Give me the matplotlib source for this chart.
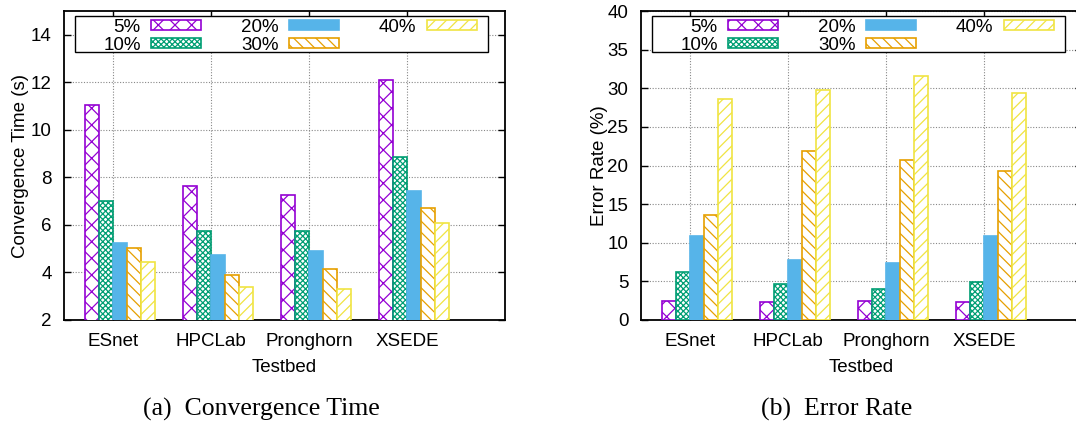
import numpy as np
import matplotlib
matplotlib.use('Agg')
import matplotlib.pyplot as plt
from matplotlib.patches import Rectangle

# data
testbeds = ['ESnet', 'HPCLab', 'Pronghorn', 'XSEDE']
labels = ['5%', '10%', '20%', '30%', '40%']
conv_time = [
    [11.05, 7.63, 7.25, 12.08],   # 5%
    [7.02, 5.75, 5.75, 8.86],     # 10%
    [5.23, 4.72, 4.90, 7.42],     # 20%
    [5.02, 3.88, 4.13, 6.70],     # 30%
    [4.43, 3.38, 3.32, 6.07],     # 40%
]
err_rate = [
    [2.5, 2.37, 2.42, 2.33],
    [6.17, 4.66, 3.97, 4.96],
    [10.83, 7.81, 7.38, 10.92],
    [13.55, 21.83, 20.71, 19.25],
    [28.57, 29.77, 31.63, 29.39],
]

colors = ['#9400D3', '#009E73', '#56B4E9', '#E69F00', '#F0E442']
hatches = ['xx', 'xxxxxx', '', '\\\\\\', '///']
fills = [False, False, True, False, False]

plt.rcParams['font.family'] = ['Liberation Sans', 'DejaVu Sans']
plt.rcParams['hatch.linewidth'] = 0.9
FS = 13.5

fig = plt.figure(figsize=(10.76, 4.25), dpi=100)
W, H = 1076.0, 425.0
ax1 = fig.add_axes([64 / W, (H - 320) / H, 441 / W, 309 / H])
ax2 = fig.add_axes([641 / W, (H - 320) / H, 441 / W, 309 / H])


def draw(ax, data, ylim, yticks, ylabel, ypad):
    x = np.arange(len(testbeds))
    w = 0.143
    for j, vals in enumerate(data):
        ax.bar(x + (j - 2) * w, vals, width=w, align='edge',
               color=colors[j] if fills[j] else 'white',
               edgecolor=colors[j], hatch=hatches[j], linewidth=1.2,
               label=labels[j], zorder=3)
    ax.set_xlim(-0.5, 4.0)
    ax.set_ylim(*ylim)
    ax.set_xticks(x)
    ax.set_xticklabels(testbeds, fontsize=FS)
    ax.set_yticks(yticks)
    ax.tick_params(axis='y', labelsize=FS, pad=9)
    ax.tick_params(axis='x', pad=9)
    ax.tick_params(direction='in', length=5, width=1, top=True, right=True)
    ax.grid(True, color='#888888', linestyle=(0, (1, 1.5)), linewidth=0.8,
            zorder=0)
    for s in ax.spines.values():
        s.set_linewidth(1.3)
    ax.set_xlabel('Testbed', fontsize=FS, labelpad=7)
    ax.set_ylabel(ylabel, fontsize=FS, labelpad=ypad)
    # gnuplot-like key: label text right-aligned before each sample
    leg = ax.legend(ncol=3, loc='center right', markerfirst=False,
                    bbox_to_anchor=(0.936, 0.9185), borderaxespad=0,
                    borderpad=0, fontsize=FS, handlelength=2.67,
                    handleheight=0.48, handletextpad=0.57,
                    labelspacing=0.06, columnspacing=2.1, frameon=False)
    leg.set_zorder(6)
    ax.add_patch(Rectangle((0.0255, 0.8663), 0.936, 0.1185,
                           transform=ax.transAxes, facecolor='white',
                           edgecolor='black', linewidth=1.0, zorder=5))


draw(ax1, conv_time, (2, 15), [2, 4, 6, 8, 10, 12, 14],
     'Convergence Time (s)', 1)
draw(ax2, err_rate, (0, 40), [0, 5, 10, 15, 20, 25, 30, 35, 40],
     'Error Rate (%)', 0)

fig.text(261 / W, 1 - 409 / H, '(a)  Convergence Time', ha='center',
         va='center', fontsize=18.5, family='Liberation Serif')
fig.text(837 / W, 1 - 409 / H, '(b)  Error Rate', ha='center',
         va='center', fontsize=18.5, family='Liberation Serif')

fig.savefig('out.png', dpi=100)
